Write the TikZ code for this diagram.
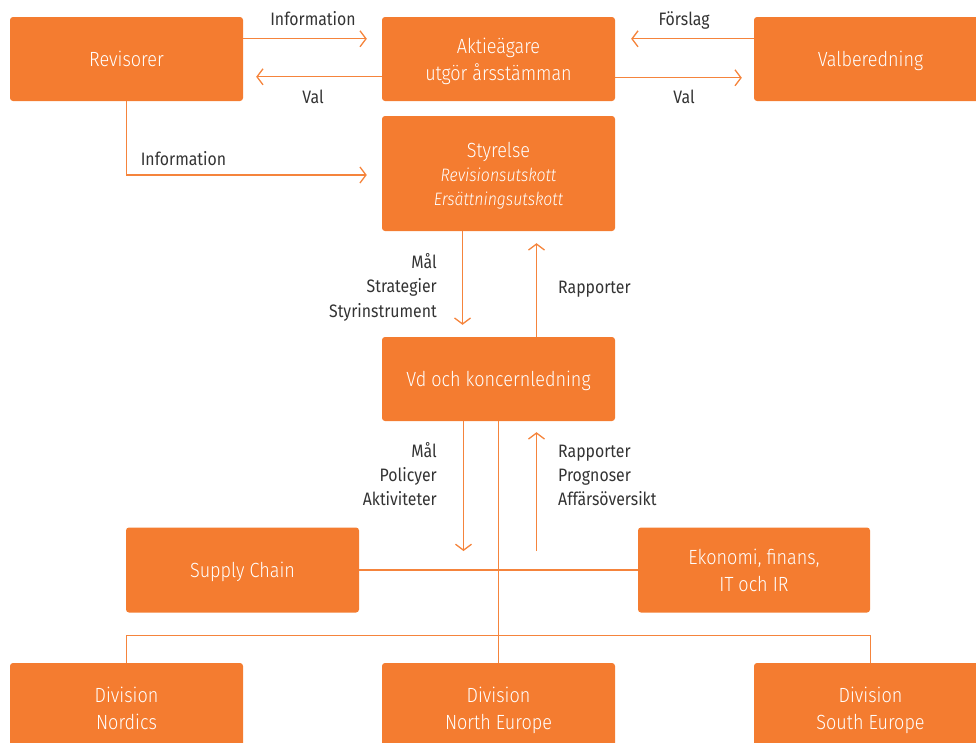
\documentclass[tikz,border=0pt]{standalone}
\usepackage{fontspec}
\setmainfont{Fira Sans}[FakeStretch=0.88]
\newfontfamily\boxfont{Fira Sans Light}[FakeStretch=0.88]
\usetikzlibrary{arrows.meta}
\definecolor{org}{HTML}{F47C30}
\definecolor{lin}{HTML}{F5843C}
\definecolor{txt}{HTML}{333333}
\begin{document}
\begin{tikzpicture}[x=1pt,y=-1pt,
  box/.style={fill=org, rounded corners=3pt, text=white, align=center,
    font=\boxfont\fontsize{20.5}{27}\selectfont, inner sep=0pt, text depth=0pt,
    minimum width=233pt, minimum height=84pt},
  arr/.style={draw=lin, line width=1.3pt,
    -{Straight Barb[length=6pt,width=16pt,line width=1.3pt]}},
  ln/.style={draw=lin, line width=1.3pt},
  lab/.style={text=txt, font=\fontsize{18}{24.3}\selectfont, inner sep=0pt}]
\useasboundingbox (0,0) rectangle (976,742);
\clip (0,0) rectangle (976,742);
% boxes
\node[box] (rev) at (126.5,59) {Revisorer};
\node[box] (akt) at (498.5,59) {Aktieägare\\utgör årsstämman};
\node[box] (val) at (870.5,59) {Valberedning};
\node[box, minimum height=115pt] (sty) at (498.5,173.5)
  {Styrelse\\[-3pt]{\fontsize{18}{24}\selectfont\itshape Revisionsutskott}\\[-3pt]{\fontsize{18}{24}\selectfont\itshape Ersättningsutskott}};
\node[box] (vd) at (498.5,379) {Vd och koncernledning};
\node[box, minimum height=85pt] (sc) at (242.5,570) {Supply Chain};
\node[box, minimum width=232pt, minimum height=85pt] (eko) at (754,570) {Ekonomi, finans,\\IT och IR};
\node[box, minimum height=90pt] (nor) at (126.5,708) {Division\\Nordics};
\node[box, minimum height=90pt] (ne) at (498.5,708) {Division\\North Europe};
\node[box, minimum height=90pt] (se) at (870.5,708) {Division\\South Europe};
% top arrows
\draw[arr] ([yshift=-22pt]rev.north east) -- ([xshift=-15pt,yshift=-22pt]akt.north west);
\draw[arr] ([yshift=-60pt]akt.north west) -- ([xshift=13pt,yshift=-60pt]rev.north east);
\draw[arr] ([yshift=-22pt]val.north west) -- ([xshift=16pt,yshift=-22pt]akt.north east);
\draw[arr] ([yshift=-61pt]akt.north east) -- ([xshift=-12pt,yshift=-61pt]val.north west);
\draw[arr] (rev.south) |- ([xshift=-15pt,yshift=-1.5pt]sty.west);
% vertical arrows
\draw[arr] ([xshift=-36pt]sty.south) -- ([xshift=-36pt,yshift=12pt]vd.north);
\draw[arr] ([xshift=38pt]vd.north) -- ([xshift=38pt,yshift=-12pt]sty.south);
\coordinate (d1) at (463.5,551);
\coordinate (u1) at (536.5,551);
\draw[arr] ([xshift=-35pt]vd.south) -- (d1);
\draw[arr] (u1) -- ([xshift=38pt,yshift=-11pt]vd.south);
% tree lines
\draw[ln] (vd.south) -- (ne.north);
\draw[ln] (sc.east) -- (eko.west);
\draw[ln] (nor.north) -- ++(0,-27) -| (se.north);
% labels
\node[lab, anchor=base] (l1) at (313,25) {Information};
\node[lab, anchor=base] (l2) at (313,103) {Val};
\node[lab, anchor=base] (l3) at (684,25) {Förslag};
\node[lab, anchor=base] (l4) at (684,103) {Val};
\node[lab, anchor=base] (l5) at (183.5,165) {Information};
\node[lab, anchor=base east] (l6a) at (437,268) {Mål};
\node[lab, anchor=base east] (l6b) at (437,292.5) {Strategier};
\node[lab, anchor=base east] (l6c) at (437,317) {Styrinstrument};
\node[lab, anchor=base west] (l7) at (558,293) {Rapporter};
\node[lab, anchor=base east] (l8a) at (437,457) {Mål};
\node[lab, anchor=base east] (l8b) at (437,481) {Policyer};
\node[lab, anchor=base east] (l8c) at (437,505) {Aktiviteter};
\node[lab, anchor=base west] (l9a) at (558,457) {Rapporter};
\node[lab, anchor=base west] (l9b) at (558,481) {Prognoser};
\node[lab, anchor=base west] (l9c) at (558,505) {Affärsöversikt};
\end{tikzpicture}
\end{document}
